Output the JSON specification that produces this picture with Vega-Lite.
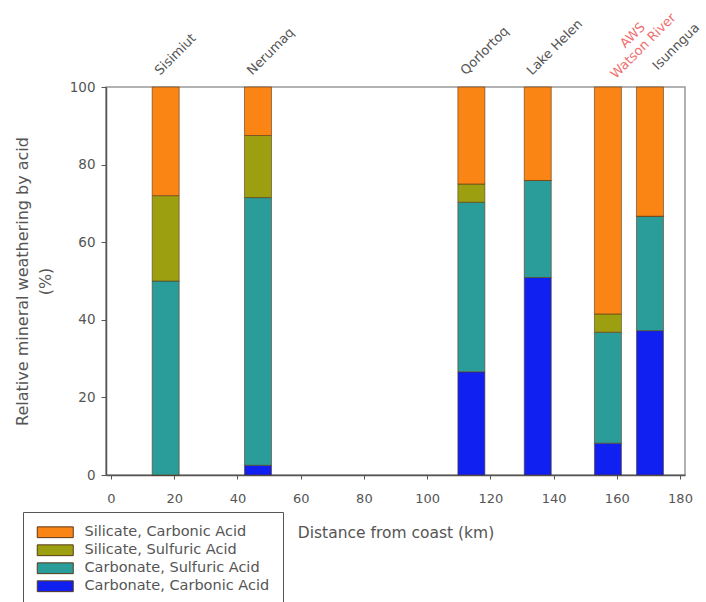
{
  "$schema": "https://vega.github.io/schema/vega-lite/v6.json",
  "width": 579,
  "height": 388,
  "autosize": {"type": "none"},
  "padding": {"left": 106, "top": 87, "right": 21, "bottom": 127},
  "background": "white",
  "config": {
    "font": "DejaVu Sans",
    "view": {"stroke": "#999", "strokeWidth": 1.5},
    "axis": {"grid": false, "domainColor": "#555", "tickColor": "#555", "labelColor": "#555", "titleColor": "#555", "labelFont": "DejaVu Sans", "titleFont": "DejaVu Sans", "titleFontWeight": "normal", "domainWidth": 1.5}
  },
  "datasets": {
    "bars": [
      {"site": "Sisimiut", "km": 17.3, "component": "Carbonate, Carbonic Acid", "rank": 1, "value": 0},
      {"site": "Sisimiut", "km": 17.3, "component": "Carbonate, Sulfuric Acid", "rank": 2, "value": 50},
      {"site": "Sisimiut", "km": 17.3, "component": "Silicate, Sulfuric Acid", "rank": 3, "value": 22},
      {"site": "Sisimiut", "km": 17.3, "component": "Silicate, Carbonic Acid", "rank": 4, "value": 28},
      {"site": "Nerumaq", "km": 46.5, "component": "Carbonate, Carbonic Acid", "rank": 1, "value": 2.5},
      {"site": "Nerumaq", "km": 46.5, "component": "Carbonate, Sulfuric Acid", "rank": 2, "value": 69},
      {"site": "Nerumaq", "km": 46.5, "component": "Silicate, Sulfuric Acid", "rank": 3, "value": 16},
      {"site": "Nerumaq", "km": 46.5, "component": "Silicate, Carbonic Acid", "rank": 4, "value": 12.5},
      {"site": "Qorlortoq", "km": 114, "component": "Carbonate, Carbonic Acid", "rank": 1, "value": 26.6},
      {"site": "Qorlortoq", "km": 114, "component": "Carbonate, Sulfuric Acid", "rank": 2, "value": 43.7},
      {"site": "Qorlortoq", "km": 114, "component": "Silicate, Sulfuric Acid", "rank": 3, "value": 4.7},
      {"site": "Qorlortoq", "km": 114, "component": "Silicate, Carbonic Acid", "rank": 4, "value": 25},
      {"site": "Lake Helen", "km": 135, "component": "Carbonate, Carbonic Acid", "rank": 1, "value": 50.9},
      {"site": "Lake Helen", "km": 135, "component": "Carbonate, Sulfuric Acid", "rank": 2, "value": 25},
      {"site": "Lake Helen", "km": 135, "component": "Silicate, Sulfuric Acid", "rank": 3, "value": 0},
      {"site": "Lake Helen", "km": 135, "component": "Silicate, Carbonic Acid", "rank": 4, "value": 24.1},
      {"site": "AWS Watson River", "km": 157.2, "component": "Carbonate, Carbonic Acid", "rank": 1, "value": 8.2},
      {"site": "AWS Watson River", "km": 157.2, "component": "Carbonate, Sulfuric Acid", "rank": 2, "value": 28.6},
      {"site": "AWS Watson River", "km": 157.2, "component": "Silicate, Sulfuric Acid", "rank": 3, "value": 4.7},
      {"site": "AWS Watson River", "km": 157.2, "component": "Silicate, Carbonic Acid", "rank": 4, "value": 58.5},
      {"site": "Isunngua", "km": 170.5, "component": "Carbonate, Carbonic Acid", "rank": 1, "value": 37.2},
      {"site": "Isunngua", "km": 170.5, "component": "Carbonate, Sulfuric Acid", "rank": 2, "value": 29.5},
      {"site": "Isunngua", "km": 170.5, "component": "Silicate, Sulfuric Acid", "rank": 3, "value": 0},
      {"site": "Isunngua", "km": 170.5, "component": "Silicate, Carbonic Acid", "rank": 4, "value": 33.3}
    ],
    "sites": [
      {"site": "Sisimiut", "km": 17.3, "top": 100},
      {"site": "Nerumaq", "km": 46.5, "top": 100},
      {"site": "Qorlortoq", "km": 114, "top": 100},
      {"site": "Lake Helen", "km": 135, "top": 100}
    ],
    "last": [
      {"site": "Isunngua", "km": 170.5, "top": 100}
    ],
    "red": [
      {"site": "AWS\nWatson River", "km": 157.2, "top": 100}
    ]
  },
  "layer": [
    {
      "data": {"name": "bars"},
      "mark": {"type": "bar", "width": 27, "stroke": "#5a3a1a", "strokeWidth": 1, "strokeOpacity": 0.6},
      "encoding": {
        "x": {"field": "km", "type": "quantitative", "scale": {"domain": [0, 180], "nice": false},
              "axis": {"values": [0, 20, 40, 60, 80, 100, 120, 140, 160, 180], "title": "Distance from coast (km)", "labelFontSize": 13, "titleFontSize": 15.5, "labelPadding": 13, "tickSize": 4, "titlePadding": 20}},
        "y": {"field": "value", "type": "quantitative", "stack": "zero", "scale": {"domain": [0, 100], "nice": false},
              "axis": {"values": [0, 20, 40, 60, 80, 100], "title": ["Relative mineral weathering by acid", "(%)"], "labelFontSize": 13.5, "titleFontSize": 16, "tickSize": 5, "labelPadding": 6, "titlePadding": 16, "titleLineHeight": 23}},
        "order": {"field": "rank", "type": "quantitative"},
        "color": {"field": "component", "type": "nominal",
                  "scale": {"domain": ["Silicate, Carbonic Acid", "Silicate, Sulfuric Acid", "Carbonate, Sulfuric Acid", "Carbonate, Carbonic Acid"],
                            "range": ["#fa8414", "#9ca010", "#2a9d9a", "#1020f0"]},
                  "legend": {"title": null, "orient": "none", "legendX": -83, "legendY": 425,
                             "strokeColor": "#555", "padding": 13, "labelFontSize": 14.5, "labelColor": "#555", "labelFont": "DejaVu Sans", "labelLimit": 400,
                             "symbolType": "M-1,-0.9H5V0.9H-1Z", "symbolSize": 144, "symbolStrokeWidth": 1, "symbolOpacity": 1, "rowPadding": 2, "labelOffset": 34}}
      }
    },
    {
      "data": {"name": "sites"},
      "mark": {"type": "text", "angle": -45, "align": "left", "baseline": "middle", "dx": 4, "dy": -16, "fontSize": 13, "color": "#555"},
      "encoding": {
        "x": {"field": "km", "type": "quantitative"},
        "y": {"field": "top", "type": "quantitative"},
        "text": {"field": "site"}
      }
    },
    {
      "data": {"name": "last"},
      "mark": {"type": "text", "angle": -45, "align": "left", "baseline": "middle", "dx": 17, "dy": -10, "fontSize": 13, "color": "#555"},
      "encoding": {
        "x": {"field": "km", "type": "quantitative"},
        "y": {"field": "top", "type": "quantitative"},
        "text": {"field": "site"}
      }
    },
    {
      "data": {"name": "red"},
      "mark": {"type": "text", "angle": -45, "align": "center", "baseline": "bottom", "lineBreak": "\n", "dx": 54, "dy": -12, "fontSize": 13, "color": "#f07070", "lineHeight": 15},
      "encoding": {
        "x": {"field": "km", "type": "quantitative"},
        "y": {"field": "top", "type": "quantitative"},
        "text": {"field": "site"}
      }
    }
  ]
}
